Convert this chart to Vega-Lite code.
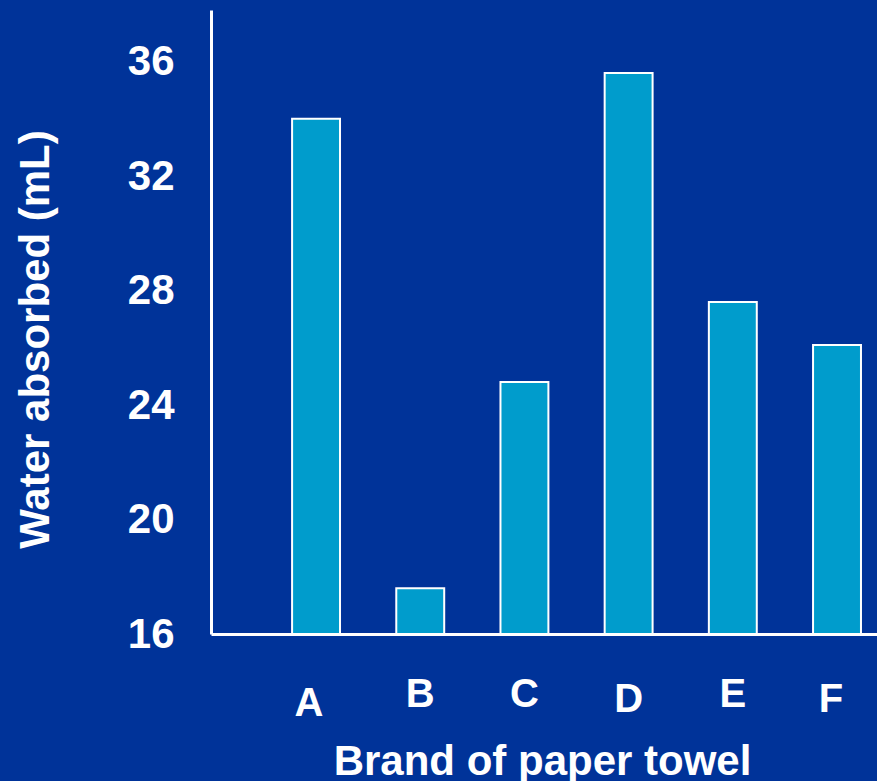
{
  "$schema": "https://vega.github.io/schema/vega-lite/v6.json",
  "autosize": "none",
  "width": 666,
  "height": 624,
  "padding": {"left": 211, "top": 10, "right": 0, "bottom": 147},
  "background": "#003399",
  "config": {
    "view": {"stroke": null},
    "font": "Liberation Sans, Arial, sans-serif"
  },
  "data": {
    "values": [
      {"brand": "A", "water": 34.0},
      {"brand": "B", "water": 17.6},
      {"brand": "C", "water": 24.8},
      {"brand": "D", "water": 35.6},
      {"brand": "E", "water": 27.6},
      {"brand": "F", "water": 26.1}
    ]
  },
  "mark": {"type": "bar", "fill": "#009ccc", "stroke": "#ffffff", "strokeWidth": 2},
  "encoding": {
    "x": {
      "field": "brand",
      "type": "nominal",
      "sort": null,
      "scale": {"paddingInner": 0.54, "paddingOuter": 0.466, "align": 0.835},
      "axis": {
        "title": "Brand of paper towel",
        "titleFontSize": 42,
        "titleFontWeight": "bold",
        "titleColor": "#ffffff",
        "titleAlign": "center",
        "titleBaseline": "alphabetic",
        "titleX": 331,
        "titleY": 140,
        "labelAngle": 0,
        "labelFontSize": 40,
        "labelFontWeight": "bold",
        "labelColor": "#ffffff",
        "labelBaseline": "top",
        "labelPadding": {
          "condition": [
            {"test": "datum.value === 'A'", "value": 49},
            {"test": "datum.value === 'D' || datum.value === 'F'", "value": 45}
          ],
          "value": 40
        },
        "labelOffset": {
          "condition": [
            {"test": "datum.value === 'A'", "value": -7},
            {"test": "datum.value === 'F'", "value": -6}
          ],
          "value": 0
        },
        "ticks": false,
        "tickSize": 0,
        "domainColor": "#ffffff",
        "domainWidth": 3,
        "grid": false
      }
    },
    "y": {
      "field": "water",
      "type": "quantitative",
      "scale": {"domain": [16, 37.8], "nice": false, "zero": false},
      "axis": {
        "title": "Water absorbed (mL)",
        "titleFontSize": 42,
        "titleFontWeight": "bold",
        "titleColor": "#ffffff",
        "titleAngle": -90,
        "titleAlign": "center",
        "titleBaseline": "middle",
        "titleX": -176,
        "titleY": 329,
        "values": [16, 20, 24, 28, 32, 36],
        "labelFontSize": 42,
        "labelFontWeight": "bold",
        "labelColor": "#ffffff",
        "labelPadding": 37,
        "labelFlush": false,
        "labelOverlap": false,
        "ticks": false,
        "tickSize": 0,
        "domainColor": "#ffffff",
        "domainWidth": 3,
        "grid": false
      }
    },
    "y2": {"datum": 16}
  }
}
